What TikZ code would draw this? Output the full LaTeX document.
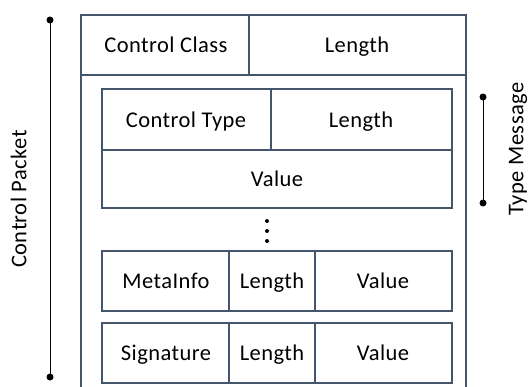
\documentclass[tikz,border=0pt]{standalone}
\usepackage{fontspec}
\setmainfont{Carlito}[LetterSpace=2]
\begin{document}
\begin{tikzpicture}[x=1pt,y=-1pt,
  box/.style={draw=boxc,line width=1.3pt},
  lbl/.style={font=\fontsize{22.5}{26}\selectfont,inner sep=0pt,text=black,text height=14.5pt,text depth=0pt},
  bar/.style={line width=0.8pt,black},
  dotend/.style={circle,fill=black,inner sep=0pt,minimum size=7pt}]
\definecolor{boxc}{HTML}{44546A}
\useasboundingbox (0,0) rectangle (529,387);
% outer box (open at bottom)
\draw[box] (81,390) -- (81,15) -- (466,15) -- (466,390);
\draw[box] (81,75) -- (466,75);
\draw[box] (249,15) -- (249,75);
\node[lbl] (cc) at (166,45) {Control Class};
\node[lbl] (cl) at (357,45) {Length};
% type box
\draw[box] (102,89) rectangle (452,208);
\draw[box] (102,150) -- (452,150);
\draw[box] (271,89) -- (271,150);
\node[lbl] (ct) at (186,120) {Control Type};
\node[lbl] (tl) at (361,120) {Length};
\node[lbl] (tv) at (277,179) {Value};
% dots
\node[circle,fill=black,inner sep=0pt,minimum size=4pt] (d1) at (267,221) {};
\node[circle,fill=black,inner sep=0pt,minimum size=4pt] (d2) at (267,231) {};
\node[circle,fill=black,inner sep=0pt,minimum size=4pt] (d3) at (267,241) {};
% metainfo
\draw[box] (102,251) rectangle (452,311);
\draw[box] (229,251) -- (229,311);
\draw[box] (315,251) -- (315,311);
\node[lbl] (mi) at (166,281) {MetaInfo};
\node[lbl] (ml) at (272,281) {Length};
\node[lbl] (mv) at (383,281) {Value};
% signature
\draw[box] (102,323) rectangle (452,383);
\draw[box] (229,323) -- (229,383);
\draw[box] (315,323) -- (315,383);
\node[lbl] (si) at (166,353) {Signature};
\node[lbl] (sl) at (272,353) {Length};
\node[lbl] (sv) at (383,353) {Value};
% control packet bracket
\node[dotend] (cp1) at (50,20) {};
\node[dotend] (cp2) at (50,377) {};
\draw[bar] (cp1.center) -- (cp2.center);
\node[lbl,rotate=90] (cpl) at (19,199) {Control Packet};
% type message bracket
\node[dotend] (tm1) at (483,97) {};
\node[dotend] (tm2) at (483,203) {};
\draw[bar] (tm1.center) -- (tm2.center);
\node[lbl,rotate=90] (tml) at (516,149) {Type Message};
\end{tikzpicture}
\end{document}
